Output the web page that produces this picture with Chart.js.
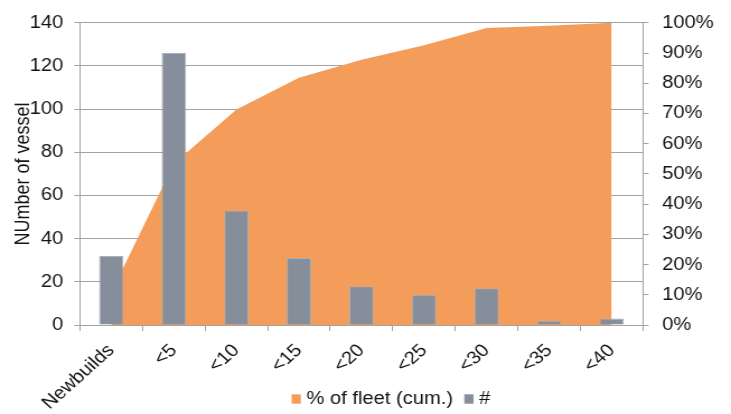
<!DOCTYPE html>
<html>
<head>
<meta charset="utf-8">
<title>Fleet age profile</title>
<script src="https://cdn.jsdelivr.net/npm/chart.js@4/dist/chart.umd.min.js"></script>
<style>
  html, body { margin: 0; padding: 0; background: #fff; overflow: hidden; }
  #wrap { width: 731px; height: 414px; overflow: hidden; background: #fff; }
  /* the chart is laid out narrower and widened to the page width */
  #c { display: block; transform-origin: 0 0; }
</style>
</head>
<body>
<div id="wrap"><canvas id="c"></canvas></div>
<script>
// Age bands of the fleet (years)
const categories = ['Newbuilds', '<5', '<10', '<15', '<20', '<25', '<30', '<35', '<40'];
// Number of vessels in each band
const vesselCount = [32, 126, 53, 31, 18, 14, 17, 2, 3];
// Cumulative share of the fleet, percent
const fleetCumPct = [10.8, 53.4, 71.3, 81.8, 87.8, 92.6, 98.3, 99.0, 100];
// Axis tick values
const countTicks = [0, 20, 40, 60, 80, 100, 120, 140];
const pctTicks = [0, 10, 20, 30, 40, 50, 60, 70, 80, 90, 100];

const PAGE_W = 731, PAGE_H = 414;
const W = 653;                 // layout width before widening
const STRETCH = PAGE_W / W;

const FONT = { family: "'Liberation Sans', Arial, Helvetica, sans-serif", size: 18 };
const INK = '#141414';
const GRID = '#a3a3a3';
const ORANGE = '#F49D5A';
const SLATE = '#868E9B';

const canvas = document.getElementById('c');
canvas.width = W;
canvas.height = PAGE_H;
canvas.style.transform = 'scaleX(' + STRETCH + ')';

// Legend drawn along the bottom, beside the slanted category labels
const bottomLegend = {
  id: 'bottomLegend',
  afterDraw(chart) {
    const ctx = chart.ctx;
    const y = 399;
    const box = { w: 8.2, h: 9.4 };
    let x = 260.5;
    ctx.save();
    ctx.font = FONT.size + 'px ' + FONT.family;
    ctx.textBaseline = 'middle';
    ctx.textAlign = 'left';
    chart.data.datasets.forEach(ds => {
      ctx.fillStyle = ds.backgroundColor;
      ctx.fillRect(x, y - box.h / 2, box.w, box.h);
      x += box.w + 5;
      ctx.fillStyle = INK;
      ctx.fillText(ds.label, x, y);
      x += ctx.measureText(ds.label).width + 10;
    });
    ctx.restore();
  }
};

new Chart(canvas, {
  type: 'bar',
  data: {
    labels: categories,
    datasets: [
      {
        type: 'line',
        label: '% of fleet (cum.)',
        data: fleetCumPct,
        yAxisID: 'y1',
        backgroundColor: ORANGE,
        borderColor: 'rgba(0,0,0,0)',
        borderWidth: 0,
        pointRadius: 0,
        tension: 0,
        fill: 'origin',
        order: 2
      },
      {
        type: 'bar',
        label: '#',
        data: vesselCount,
        yAxisID: 'y',
        backgroundColor: SLATE,
        borderColor: '#aab0ba',
        borderWidth: 1,
        barPercentage: 0.39,
        categoryPercentage: 1,
        order: 1
      }
    ]
  },
  options: {
    responsive: false,
    maintainAspectRatio: false,
    devicePixelRatio: 1,
    animation: false,
    events: [],
    layout: { padding: { top: 20, left: 0, right: 0, bottom: 0 } },
    plugins: {
      legend: { display: false },
      tooltip: { enabled: false }
    },
    scales: {
      x: {
        type: 'category',
        offset: true,
        grid: { offset: true, drawOnChartArea: false, drawTicks: true, tickLength: 6, color: GRID },
        border: { color: GRID, width: 1 },
        ticks: { font: FONT, color: INK, minRotation: 45, maxRotation: 45, padding: 9, autoSkip: false },
        afterFit(s) { s.height = PAGE_H - 325; }
      },
      y: {
        position: 'left',
        min: countTicks[0],
        max: countTicks[countTicks.length - 1],
        afterBuildTicks(s) { s.ticks = countTicks.map(v => ({ value: v })); },
        grid: { color: GRID, lineWidth: 1, drawTicks: true, tickLength: 5 },
        border: { color: GRID, width: 1 },
        ticks: { font: FONT, color: INK, padding: 10 },
        title: {
          display: true,
          text: 'NUmber of vessel',
          font: FONT,
          color: INK,
          padding: { top: 10, bottom: 0 }
        },
        afterFit(s) { s.width = 80 / STRETCH; }
      },
      y1: {
        position: 'right',
        min: pctTicks[0],
        max: pctTicks[pctTicks.length - 1],
        afterBuildTicks(s) { s.ticks = pctTicks.map(v => ({ value: v })); },
        grid: { drawOnChartArea: false, color: GRID, drawTicks: true, tickLength: 5 },
        border: { color: GRID, width: 1 },
        ticks: { font: FONT, color: INK, padding: 12, callback: v => v + '%' },
        afterFit(s) { s.width = W - 643 / STRETCH; }
      }
    }
  },
  plugins: [bottomLegend]
});
</script>
</body>
</html>
